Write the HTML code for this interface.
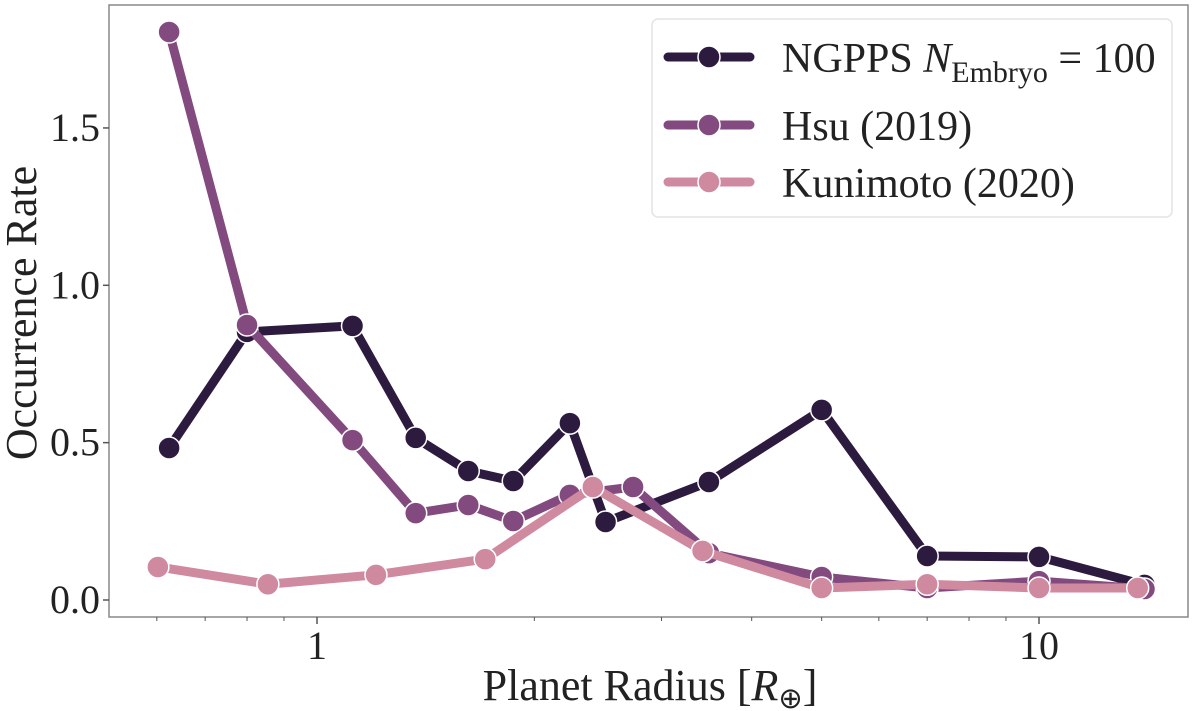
<!DOCTYPE html>
<html><head><meta charset="utf-8"><style>
html,body{margin:0;padding:0;background:#fff;}
svg{display:block;font-family:"Liberation Serif",serif;}
</style></head><body>
<svg id="chart" width="1200" height="711" viewBox="0 0 1200 711">
<rect x="109" y="5" width="1079" height="612" fill="#fff" stroke="#888" stroke-width="1.5"/>
<g id="axes"></g>
<g id="series"></g>
<g id="legend">
<rect x="652" y="19" width="520" height="198" rx="6" fill="#fff" stroke="#e4e4e4" stroke-width="1.5"/>
</g>
<text x="650" y="700" font-size="44" text-anchor="middle" fill="#222">Planet Radius [<tspan font-style="italic">R</tspan><tspan font-size="29" dy="8">⊕</tspan><tspan dy="-8">]</tspan></text>
<text transform="translate(36,313) rotate(-90)" font-size="44" text-anchor="middle" fill="#222">Occurrence Rate</text>
</svg>
<script>
const ngppsX=[0.624,0.80,1.12,1.37,1.62,1.87,2.24,2.51,3.49,5.0,7.0,10.0,14.0];
const ngppsY=[0.483,0.852,0.871,0.515,0.41,0.378,0.562,0.248,0.375,0.604,0.14,0.137,0.048];
const hsuX=[0.624,0.80,1.12,1.37,1.62,1.87,2.24,2.74,3.49,5.0,7.0,10.0,14.0];
const hsuY=[1.805,0.874,0.508,0.276,0.302,0.251,0.334,0.359,0.149,0.073,0.038,0.06,0.035];
const kunX=[0.602,0.855,1.207,1.71,2.41,3.42,5.0,7.0,10.0,13.7];
const kunY=[0.105,0.05,0.08,0.13,0.359,0.156,0.038,0.05,0.038,0.038];
const yTicks=[0,0.5,1.0,1.5];
const yTickLabels=["0.0","0.5","1.0","1.5"];
const xTicks=[1,10];
const xTickLabels=["1","10"];
const xMinor=[0.6,0.7,0.8,0.9,2,3,4,5,6,7,8,9];
const NS="http://www.w3.org/2000/svg";
const sx=v=>317+722*Math.log10(v);
const sy=v=>600-314.7*v;
function mk(tag,attrs,parent){const e=document.createElementNS(NS,tag);for(const k in attrs)e.setAttribute(k,attrs[k]);parent.appendChild(e);return e;}
const axes=document.getElementById('axes');
yTicks.forEach((t,i)=>{
  const l=mk('line',{x1:103,x2:109,y1:sy(t),y2:sy(t),stroke:'#555','stroke-width':1.5},axes);
  
  
  const tx=mk('text',{x:100,y:sy(t)+13,'font-size':40,'text-anchor':'end',fill:'#222'},axes);
  tx.textContent=yTickLabels[i];
  
  
});
xTicks.forEach((t,i)=>{
  const l=mk('line',{x1:sx(t),x2:sx(t),y1:617,y2:624,stroke:'#555','stroke-width':1.5},axes);
  
  
  const tx=mk('text',{x:sx(t),y:659,'font-size':40,'text-anchor':'middle',fill:'#222'},axes);
  tx.textContent=xTickLabels[i];
  
  
});
xMinor.forEach(t=>{
  const l=mk('line',{x1:sx(t),x2:sx(t),y1:617,y2:621,stroke:'#555','stroke-width':1},axes);
  
  
});
const series=document.getElementById('series');
function draw(xs,ys,color,name){
  const g=mk('g',{},series);
  
  
  const pl=mk('polyline',{points:xs.map((x,i)=>sx(x)+','+sy(ys[i])).join(' '),fill:'none',stroke:color,'stroke-width':9,'stroke-linejoin':'round','stroke-linecap':'round'},g);
  
  
  xs.forEach((x,i)=>{
    const c=mk('circle',{cx:sx(x),cy:sy(ys[i]),r:11,fill:color,stroke:'#fff','stroke-width':1.5},g);
    
    
  });
}
draw(ngppsX,ngppsY,'#2d1b3f','ngpps');
draw(hsuX,hsuY,'#824a7e','hsu');
draw(kunX,kunY,'#cf8aa0','kunimoto');
const lg=document.getElementById('legend');
const entries=[['#2d1b3f',57,'ngpps'],['#824a7e',125,'hsu'],['#cf8aa0',182,'kunimoto']];
entries.forEach(([c,y,n])=>{
  const l=mk('line',{x1:668,x2:750,y1:y,y2:y,stroke:c,'stroke-width':9,'stroke-linecap':'round'},lg);
  
  
  const m=mk('circle',{cx:709,cy:y,r:11,fill:c,stroke:'#fff','stroke-width':1.5},lg);
  
  
});
const t1=mk('text',{x:782,y:72,'font-size':42,fill:'#222'},lg);
t1.innerHTML='NGPPS <tspan font-style="italic">N</tspan><tspan font-size="30" dy="10">Embryo</tspan><tspan dy="-10"> = 100</tspan>';


const t2=mk('text',{x:782,y:140,'font-size':42,fill:'#222'},lg);
t2.textContent='Hsu (2019)';


const t3=mk('text',{x:782,y:197,'font-size':42,fill:'#222'},lg);
t3.textContent='Kunimoto (2020)';


</script>
</body></html>
